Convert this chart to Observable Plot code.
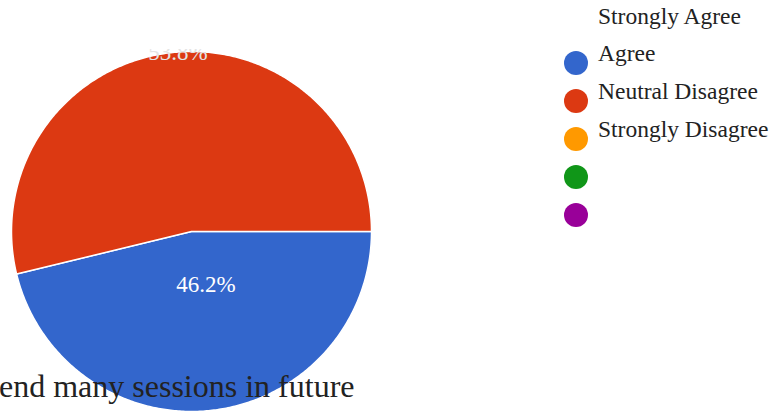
<!DOCTYPE html>
<html><head><meta charset="utf-8">
<script src="https://cdn.jsdelivr.net/npm/d3@7"></script>
<script src="https://cdn.jsdelivr.net/npm/@observablehq/plot@0.6"></script>
<style>
body{margin:0;background:#fff;}
#wrap{position:relative;width:771px;height:411px;overflow:hidden;font-family:"Liberation Serif",serif;color:#222;}
#chart{position:absolute;left:0;top:0;}
#chart svg{clip-path:inset(49px 0 0 0);}
.lg{position:absolute;font-size:23.5px;line-height:23.5px;white-space:nowrap;}
.dot{position:absolute;width:24px;height:24px;border-radius:50%;}
#title{position:absolute;left:-1px;top:370px;font-size:32px;line-height:32px;white-space:nowrap;}
</style>
</head><body>
<div id="wrap"><div id="chart"></div></div>
<script>
const sliceNames = ["Strongly Agree","Agree","Neutral","Disagree","Strongly Disagree"];
const sliceValues = [46.2, 53.8, 0, 0, 0];
const sliceColors = ["#3366cc","#dc3912","#ff9900","#109618","#990099"];
const legendLines = ["Strongly Agree","Agree","Neutral Disagree","Strongly Disagree"];
const titleText = "end many sessions in future";

const cx = 191, cy = 231, R = 180, W = 771, H = 411;
const serif = '"Liberation Serif",serif';
const total = d3.sum(sliceValues);
const pie = d3.pie().sort(null).value(d => d)(sliceValues);

// angle a: clockwise from east, in radians
const pt = (a, r) => ({x: r * Math.cos(a), y: -r * Math.sin(a)});
const marks = [];
pie.forEach((p, i) => {
  if (sliceValues[i] <= 0) return;
  const pts = [pt(0, 0)];
  const n = Math.max(2, Math.ceil((p.endAngle - p.startAngle) / 0.01));
  for (let k = 0; k <= n; k++) pts.push(pt(p.startAngle + (p.endAngle - p.startAngle) * k / n, 1));
  pts.push(pt(0, 0));
  marks.push(Plot.line(pts, {x: "x", y: "y", fill: sliceColors[i], stroke: "white", strokeWidth: 1.5, curve: "linear"}));
});
const labelRadius = [0.3, 1.0];
const labels = pie.map((p, i) => {
  const mid = (p.startAngle + p.endAngle) / 2;
  return {...pt(mid, labelRadius[i] ?? 0.6), v: sliceValues[i], i};
}).filter(d => d.v > 0);
marks.push(Plot.text(labels, {
  x: "x", y: "y", dx: 8,
  text: d => (d.v / total * 100).toFixed(1) + "%",
  fill: d => d.i === 0 ? "white" : "#e4e4e4",
  fontSize: 23, fontFamily: serif, textAnchor: "middle", lineAnchor: "middle"
}));

const chart = Plot.plot({
  width: W, height: H, margin: 0,
  x: {domain: [-cx / R, (W - cx) / R], range: [0, W], axis: null},
  y: {domain: [-(H - cy) / R, cy / R], range: [H, 0], axis: null},
  marks
});
document.getElementById("chart").appendChild(chart);

const wrap = document.getElementById("wrap");
const textTops = [5, 42, 80, 118];
legendLines.forEach((t, i) => {
  const d = document.createElement("div");
  d.className = "lg"; d.textContent = t;
  d.style.left = "598px"; d.style.top = textTops[i] + "px";
  wrap.appendChild(d);
});
sliceColors.forEach((c, i) => {
  const d = document.createElement("div");
  d.className = "dot"; d.style.background = c;
  d.style.left = "564px"; d.style.top = (51 + 38 * i) + "px";
  wrap.appendChild(d);
});
const t = document.createElement("div");
t.id = "title"; t.textContent = titleText;
wrap.appendChild(t);
</script>
</body></html>
